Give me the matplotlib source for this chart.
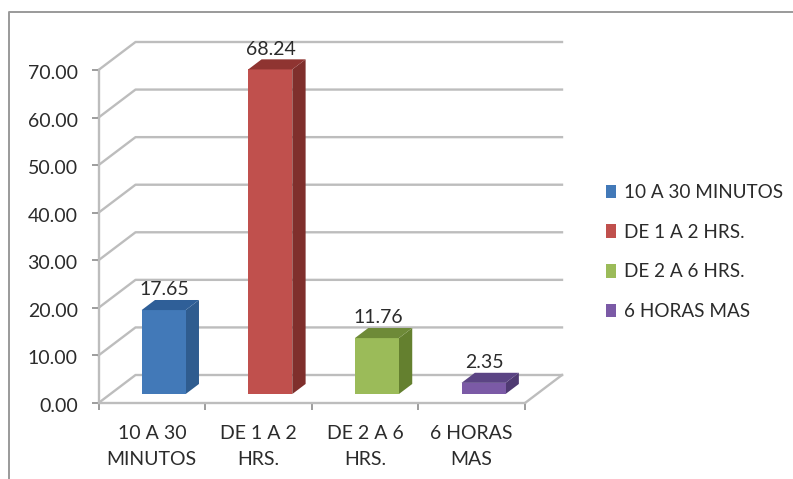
import matplotlib
matplotlib.use("Agg")
import matplotlib.pyplot as plt
from matplotlib.patches import Polygon, Rectangle
from matplotlib.transforms import ScaledTranslation

plt.rcParams["font.family"] = ["Lato", "DejaVu Sans"]

categories = ["10 A 30 MINUTOS", "DE 1 A 2 HRS.", "DE 2 A 6 HRS.", "6 HORAS MAS"]
tick_labels = ["10 A 30\nMINUTOS", "DE 1 A 2\nHRS.", "DE 2 A 6\nHRS.", "6 HORAS\nMAS"]
values = [17.65, 68.24, 11.76, 2.35]
front_colors = ["#4279B8", "#C0504D", "#9BBB59", "#7B5AA6"]
side_colors = ["#2F5C8F", "#7F2F2C", "#64802F", "#4F3A72"]
top_colors = ["#2F5F98", "#8F3431", "#6E8A38", "#5B4484"]
y_ticks = [0, 10, 20, 30, 40, 50, 60, 70]

W, H = 793, 479
GRID = "#BDBDBD"
TEXT = "#2B2B2B"

fig = plt.figure(figsize=(W / 100, H / 100), dpi=100, facecolor="white")
ax = fig.add_axes([98.5 / W, (H - 403) / H, 426.5 / W, 333 / H])
ax.set_xlim(0, 4)
ax.set_ylim(0, 70)
ax.patch.set_visible(False)

# wall depth in data units (oblique fake 3d): 37 px across, 28 px up
DX = 37 / 106.6
DY = 28 / 4.757


def project(x, y, d):
    return x + DX * d, y + DY * d


# gridlines along the side wall and the back wall
for v in y_ticks:
    x0, y0 = project(0, v, 1)
    x1, y1 = project(4, v, 1)
    ax.plot([0, x0, x1], [v, y0, y1], color=GRID, lw=1.7, clip_on=False, zorder=1)
x0, y0 = project(4, 0, 1)
ax.plot([4, x0], [0, y0], color=GRID, lw=1.7, clip_on=False, zorder=1)

# bars: front face sits a third of the way into the floor
bar_w = 44 / 106.6
bar_d = 0.36
for i, v in enumerate(values):
    left = i + 0.5 - bar_w / 2
    right = left + bar_w
    fl = project(left, 0, 0.32)
    fr = project(right, 0, 0.32)
    h = v
    front = [fl, fr, (fr[0], fr[1] + h), (fl[0], fl[1] + h)]
    sx, sy = DX * bar_d, DY * bar_d
    side = [fr, (fr[0] + sx, fr[1] + sy), (fr[0] + sx, fr[1] + sy + h), (fr[0], fr[1] + h)]
    top = [(fl[0], fl[1] + h), (fr[0], fr[1] + h),
           (fr[0] + sx, fr[1] + sy + h), (fl[0] + sx, fl[1] + sy + h)]
    ax.add_patch(Polygon(side, fc=side_colors[i], ec="none", zorder=3, clip_on=False))
    ax.add_patch(Polygon(front, fc=front_colors[i], ec="none", zorder=3, clip_on=False))
    ax.add_patch(Polygon(top, fc=top_colors[i], ec="none", zorder=3, clip_on=False))
    ax.text((fl[0] + fr[0]) / 2 + 0.01, fl[1] + sy + h + 0.35, f"{v:.2f}", ha="center", va="bottom",
            fontsize=14, color=TEXT, zorder=4, clip_on=False)

for side in ["top", "right"]:
    ax.spines[side].set_visible(False)
for side in ["left", "bottom"]:
    ax.spines[side].set_color(GRID)
    ax.spines[side].set_linewidth(1.7)

ax.set_yticks(y_ticks)
ax.set_yticklabels([f"{v:.2f}" for v in y_ticks], fontsize=14, color=TEXT)
ax.set_xticks(range(5))
ax.set_xticklabels([])
ax.set_xticks([i + 0.5 for i in range(4)], minor=True)
ax.set_xticklabels(tick_labels, minor=True, fontsize=14, color=TEXT, linespacing=1.65)
ax.tick_params(axis="y", length=5, width=1.2, color="#8C8C8C", pad=10)
ax.tick_params(axis="x", which="major", length=5, width=1.2, color="#8C8C8C")
ax.tick_params(axis="x", which="minor", length=0, pad=16)

# y labels sit a little lower than the tick marks
shift = ScaledTranslation(0, -2 / 100, fig.dpi_scale_trans)
for lab in ax.get_yticklabels():
    lab.set_transform(lab.get_transform() + shift)

handles = [Rectangle((0, 0), 1, 1, fc=c, ec="none") for c in front_colors]
leg = fig.legend(handles, categories, loc="center left", bbox_to_anchor=(606 / W, 1 - 252 / H),
                 frameon=False, fontsize=13.6, labelcolor=TEXT, handlelength=0.55, handleheight=0.74,
                 handletextpad=0.4, labelspacing=1.2, borderpad=0, borderaxespad=0)

# picture frame
fig.add_artist(plt.Line2D([9 / W, 9 / W, 1], [0, 1 - 12 / H, 1 - 12 / H], color="#9A9A9A", lw=1.4))

fig.savefig("out.png", dpi=100)
